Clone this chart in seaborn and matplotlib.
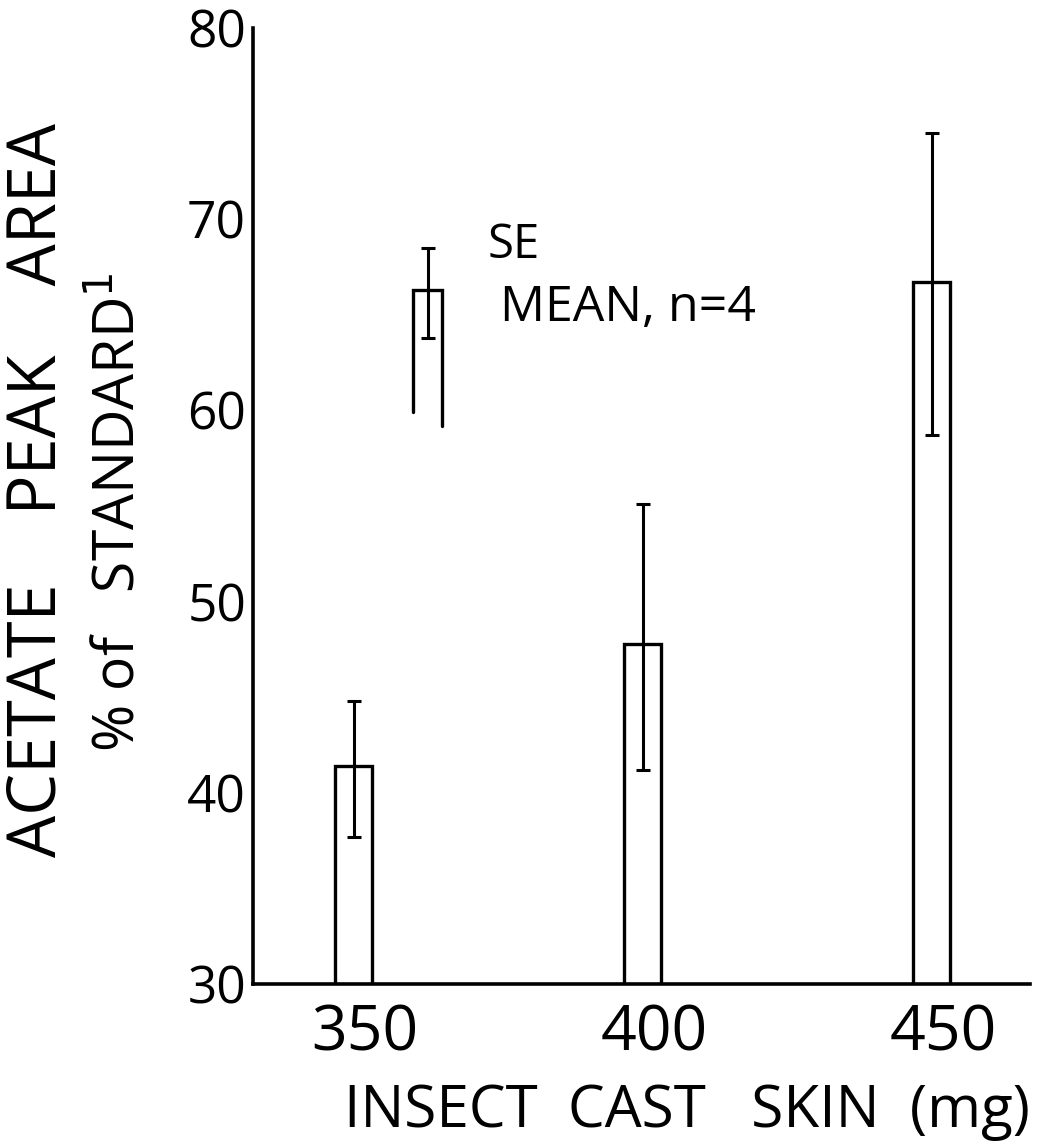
import numpy as np
import matplotlib
matplotlib.use("Agg")
import matplotlib.pyplot as plt
import matplotlib.transforms as mtransforms
import seaborn as sns

# Acetate peak area vs insect cast skin mass
mass = [350, 400, 450]
mean_area = [41.4, 47.8, 66.7]
se_upper = [44.8, 55.1, 74.5]
se_lower = [37.7, 41.2, 58.7]

# the key drawn inside the plot
key_x = 362.8
key_mean = 66.3
key_upper = 68.5
key_lower = 63.8
key_leg_bottom = [59.9, 59.2]
key_width = 5.0

y_ticks = [30, 40, 50, 60, 70, 80]

sns.set_style("white")
plt.rcParams['font.family'] = ['Open Sans', 'DejaVu Sans']
plt.rcParams.update({'text.color': 'black', 'axes.labelcolor': 'black',
                     'xtick.color': 'black', 'ytick.color': 'black'})

fig = plt.figure(figsize=(10.43, 11.43), dpi=100)
ax = fig.add_axes([0.2426, 0.1391, 0.745, 0.8364])

lw = 2.4
sns.barplot(x=mass, y=mean_area, native_scale=True, width=0.128, fill=False,
            color='black', linewidth=lw, errorbar=None, ax=ax)
for p in ax.patches:
    p.set_edgecolor('black')
    p.set_linewidth(lw)

yerr = np.array([np.array(mean_area) - np.array(se_lower),
                 np.array(se_upper) - np.array(mean_area)])
ax.errorbar(mass, mean_area, yerr=yerr, fmt='none', ecolor='black',
            elinewidth=2.2, capsize=4.7, capthick=2.2)

# key: open bar with SE bar
kl, kr = key_x - key_width / 2, key_x + key_width / 2
ax.plot([kl, kl, kr, kr], [key_leg_bottom[0], key_mean, key_mean, key_leg_bottom[1]],
        color='black', lw=lw, solid_joinstyle='miter')
ax.errorbar([key_x], [key_mean],
            yerr=[[key_mean - key_lower], [key_upper - key_mean]],
            fmt='none', ecolor='black', elinewidth=2.2, capsize=4.7, capthick=2.2)
ax.text(373.1, 68.65, "SE", fontsize=34, va='center', ha='left')
ax.text(375.3, 65.36, "MEAN, n=4", fontsize=36, va='center', ha='left')

ax.set_xlim(332.6, 467)
ax.set_ylim(30, 80)
ax.set_yticks(y_ticks)
ax.set_xticks(mass)
ax.set_xticklabels([str(m) for m in mass])
ax.set_xlabel("")
ax.set_ylabel("")

sns.despine(ax=ax)
for s in ['left', 'bottom']:
    ax.spines[s].set_linewidth(2.6)
    ax.spines[s].set_color('black')

ax.tick_params(axis='y', direction='in', length=7, width=2.2, pad=5,
               labelsize=37, color='black')
ax.tick_params(axis='x', length=0, pad=14, labelsize=45)
offset = mtransforms.ScaledTranslation(11 / 100, 0, fig.dpi_scale_trans)
for lab in ax.get_xticklabels():
    lab.set_transform(lab.get_transform() + offset)

fig.text(0.659, 0.014, "INSECT  CAST   SKIN  (mg)", fontsize=42,
         ha='center', va='baseline')
fig.text(0.0364, 0.5713, "ACETATE    PEAK    AREA", fontsize=48, rotation=90,
         ha='center', va='center')
fig.text(0.115, 0.552, r"% of   STANDARD$^{1}$", fontsize=41, rotation=90,
         ha='center', va='center')

fig.savefig("out.png", dpi=100)
